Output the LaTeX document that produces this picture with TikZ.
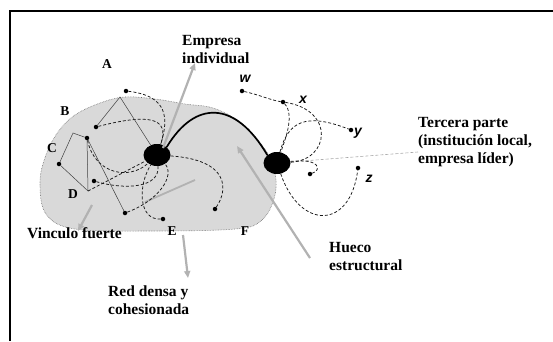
\documentclass[tikz,border=0pt]{standalone}
\usepackage{fontspec}
\setmainfont{Liberation Serif}
\setsansfont{Liberation Sans}
\usetikzlibrary{shapes.geometric,arrows.meta}
\begin{document}
\begin{tikzpicture}[x=1pt,y=-1pt,
 dot/.style={circle,fill=black,inner sep=0pt,minimum size=4.5pt},
 hub/.style={ellipse,fill=black,inner sep=0pt,minimum width=27pt,minimum height=22pt},
 link/.style={densely dashed,line width=0.75pt,black!90},
 thinlink/.style={line width=0.5pt,black!75},
 tie/.style={line width=1.7pt,black},
 garrow/.style={line width=2.2pt,black!30,-{Triangle[length=7pt,width=6pt]}},
 gline/.style={line width=1.8pt,black!30},
 lbl/.style={font=\fontsize{15.5}{18}\selectfont\bfseries,anchor=base west,inner sep=0pt},
 letter/.style={font=\fontsize{13.5}{15}\selectfont\bfseries,anchor=base,inner sep=0pt},
 sletter/.style={font=\fontsize{14}{16}\selectfont\sffamily\bfseries\itshape,anchor=base,inner sep=0pt}]
\useasboundingbox (0,0) rectangle (553,341);
% frame
\draw[line width=1.3pt] (10,341) -- (10,11) -- (553,11);
% dense network area
\draw[fill=black!15,draw=black!55,densely dotted,line width=0.6pt]
  plot[smooth cycle,tension=0.6] coordinates {(40,182) (46,155) (58,132) (75,115) (100,103) (125,97) (155,99) (185,104) (213,108) (240,122) (262,145) (274,168) (275,195) (262,220) (235,229) (150,231) (75,229) (46,214)};
% hubs
\node[hub] (L) at (157,155) {};
\node[hub] (R) at (277,163) {};
% small nodes
\node[dot] (A) at (126,91) {};
\node[dot] (B1) at (96,127) {};
\node[dot] (B2) at (87,138) {};
\node[dot] (C) at (59,164) {};
\node[dot] (D) at (94,181) {};
\node[dot] (bot) at (125,213) {};
\node[dot] (E) at (163,219) {};
\node[dot] (F) at (215,209) {};
\node[dot] (w) at (242,91) {};
\node[dot] (x) at (283,102) {};
\node[dot] (y) at (351,130) {};
\node[dot] (z) at (358,168) {};
\node[dot] (s) at (310,174) {};
\coordinate (v1) at (73,133);
\coordinate (v2) at (120,97);
\coordinate (v3) at (88,191);
% grey arrows
\coordinate (e0) at (163,148);
\coordinate (e1) at (195,63);
\coordinate (h0) at (310,258);
\coordinate (h1) at (237,146);
\coordinate (r0) at (183,235);
\coordinate (r1) at (188,278);
\coordinate (f0) at (92,205);
\coordinate (f1) at (78,231);
\coordinate (g0) at (195,180);
\coordinate (g1) at (145,202);
\coordinate (t1) at (418,152);
\draw[gline] (g0) -- (g1);
\draw[garrow] (e0) -- (e1);
\draw[garrow] (h0) -- (h1);
\draw[garrow] (r0) -- (r1);
\draw[garrow] (f0) -- (f1);
\draw[black!35,line width=0.6pt,densely dashed] (R) -- (t1);
% left connectors
\draw[tie] (L.north east) .. controls (195,100) and (235,100) .. (R.north west);
\draw[link] (A) .. controls (160,95) and (172,110) .. (L);
\draw[link] (L) .. controls (230,160) and (228,190) .. (F);
\draw[link] (B1) .. controls (150,113) and (170,118) .. (L);
\draw[link] (B2) .. controls (95,175) and (130,180) .. (L);
\draw[thinlink] (B1) -- (v2) -- (L);
\draw[thinlink] (C) -- (v1) -- (B2);
\draw[thinlink] (C) -- (v3);
\draw[thinlink] (B2) -- (v3);
\draw[link] (v3) -- (L);
\draw[thinlink] (B2) -- (bot);
\draw[link] (bot) .. controls (160,200) and (175,175) .. (L);
\draw[link] (D) .. controls (125,190) and (160,188) .. (L);
\draw[link] (E) .. controls (138,220) and (138,185) .. (L);
% right connectors
\draw[link] (w) .. controls (260,95) and (270,100) .. (x);
\draw[link] (x) .. controls (295,115) and (285,140) .. (R);
\draw[link] (x) .. controls (335,110) and (330,160) .. (R);
\draw[link] (R) .. controls (288,122) and (305,112) .. (y);
\draw[link] (R) .. controls (320,158) and (322,170) .. (s);
\draw[link] (R) .. controls (300,230) and (350,230) .. (z);
% letters
\node[letter] (lA) at (107,68) {A};
\node[letter] (lB) at (65,115) {B};
\node[letter] (lC) at (52,152) {C};
\node[letter] (lD) at (73,198) {D};
\node[letter] (lE) at (172,235) {E};
\node[letter] (lF) at (245,235) {F};
\node[sletter] (lw) at (245,82) {w};
\node[sletter] (lx) at (303,103) {x};
\node[sletter] (ly) at (358,135) {y};
\node[sletter] (lz) at (369,182) {z};
% labels
\node[lbl] (emp1) at (182,45) {Empresa};
\node[lbl] (emp2) at (182,63) {individual};
\node[lbl] (ter1) at (418,127) {Tercera parte};
\node[lbl] (ter2) at (418,145) {(institución local,};
\node[lbl] (ter3) at (418,163) {empresa líder)};
\node[lbl] (vin) at (27,238) {Vinculo fuerte};
\node[lbl] (red1) at (108,296) {Red densa y};
\node[lbl] (red2) at (108,314) {cohesionada};
\node[lbl] (hue1) at (329,252) {Hueco};
\node[lbl] (hue2) at (329,270) {estructural};
\end{tikzpicture}
\end{document}
